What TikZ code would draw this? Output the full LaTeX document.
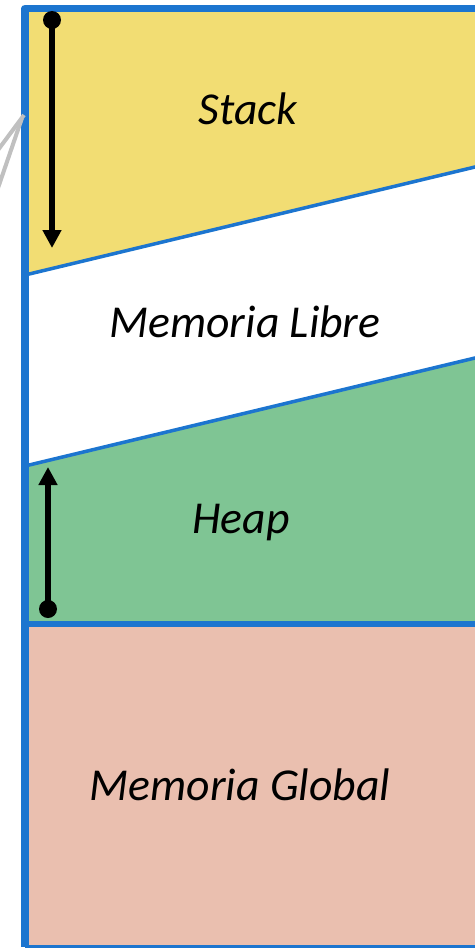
\documentclass[tikz,border=0pt]{standalone}
\usepackage{fontspec}
\setmainfont{Carlito}
\usepackage{xcolor}
\usetikzlibrary{math,arrows.meta}
\definecolor{frameblue}{HTML}{1C75CF}
\definecolor{stackyellow}{HTML}{F2DD73}
\definecolor{heapgreen}{HTML}{7FC594}
\definecolor{globalpink}{HTML}{EABFAF}
\definecolor{wiregray}{HTML}{C0C0C0}

\begin{document}
\begin{tikzpicture}[x=0.02cm, y=-0.02cm,
    zone/.style={font=\fontsize{26}{30}\selectfont\itshape, anchor=base},
    growth/.style={line width=3.1pt, -{Triangle[length=0.36cm, width=0.36cm]}},
    wire/.style={wiregray, line width=2.3pt}]
      \tikzmath{\xl = 25; \xr = 480; \yt = 8.5; \yb = 946.5; \ymid = 624; \slope = -0.24;
        \stacka = 275; \stackb = \stacka + \slope*(\xr - \xl);
        \heapa = 466; \heapb = \heapa + \slope*(\xr - \xl);}
      \useasboundingbox (0,0) rectangle (475,950);
      \clip (0,0) rectangle (475,950);
      % memory zones
      \fill[stackyellow] (\xl,\yt) -- (\xr,\yt) -- (\xr,\stackb) -- (\xl,\stacka) -- cycle;
      \fill[heapgreen] (\xl,\heapa) -- (\xr,\heapb) -- (\xr,\ymid) -- (\xl,\ymid) -- cycle;
      \fill[globalpink] (\xl,\ymid) rectangle (\xr,\yb);
      \draw[frameblue, line width=2pt] (\xl,\stacka) -- (\xr,\stackb);
      \draw[frameblue, line width=2pt] (\xl,\heapa) -- (\xr,\heapb);
      \draw[frameblue, line width=3.1pt] (\xl,\ymid) -- (\xr,\ymid);
      \draw[frameblue, line width=2pt] (\xl,\yb) -- (\xr,\yb);
      \draw[frameblue, line width=4.4pt, line join=round] (\xl,\yb) -- (\xl,\yt) -- (\xr,\yt);
      % labels
      \node[zone] (stack) at (248,124) {Stack};
      \node[zone] (libre) at (245,337) {Memoria Libre};
      \node[zone] (heap) at (241,533) {Heap};
      \node[zone] (global) at (240,800) {Memoria Global};
      % growth arrows
      \coordinate (stacktop) at (52,20);
      \coordinate (stackend) at (52,248);
      \coordinate (heapbottom) at (48,609);
      \coordinate (heapend) at (48,467);
      \draw[growth] (stacktop) -- (stackend);
      \fill (stacktop) circle (9);
      \draw[growth] (heapbottom) -- (heapend);
      \fill (heapbottom) circle (9);
      % link lines on the left
      \coordinate (linka) at (24,115);
      \coordinate (linkb) at (22,118);
      \coordinate (linkc) at (-2,150);
      \coordinate (linkd) at (-2,188);
      \draw[wire] (linka) -- (linkc);
      \draw[wire] (linkb) -- (linkd);
\end{tikzpicture}
\end{document}
